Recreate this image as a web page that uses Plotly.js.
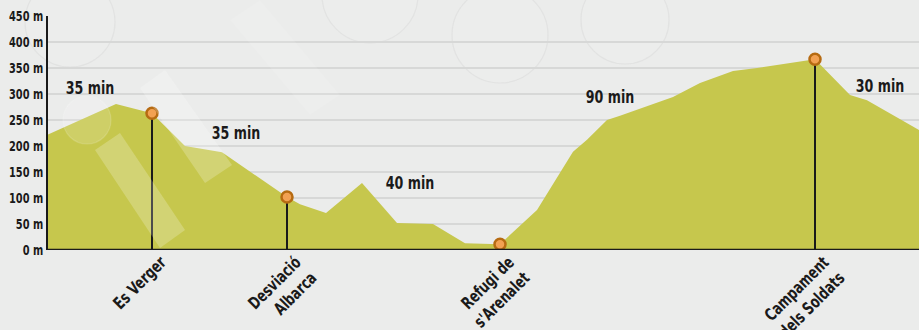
<!DOCTYPE html>
<html><head><meta charset="utf-8">
<script src="https://cdn.plot.ly/plotly-3.0.1.min.js"></script>
<style>html,body{margin:0;padding:0;background:#ebeceb;}#chart{width:919px;height:330px;}</style>
</head><body><div id="chart"></div>
<script>
// Elevation profile (distance units along the route, elevation in m)
const profileDist = [0, 68, 104, 137, 174, 239, 252, 278, 314, 349, 385, 417, 452, 489, 525, 539, 559, 572, 625, 652, 685, 709, 767, 802, 819, 871];
const profileElev = [222, 281, 263, 200, 188, 102, 88, 71, 129, 52, 50, 13, 11, 77, 189, 212, 250, 258, 294, 321, 344, 350, 367, 298, 288, 231];

const waypointNames = ["Es Verger", "Desviació<br>Albarca", "Refugi de<br>s'Arenalet", "Campament<br>dels Soldats"];
const waypointDist = [104, 239, 452, 767];
const waypointElev = [263, 102, 11, 367];

const segmentTimes = ["35 min", "35 min", "40 min", "90 min", "30 min"];
const segmentDist = [42, 188, 362, 562, 832];
const segmentElev = [312, 226, 129, 295, 317];

const yTicks = [0, 50, 100, 150, 200, 250, 300, 350, 400, 450];

const FONT = '"DejaVu Sans Condensed", "DejaVu Sans", sans-serif';

// vertical stems from data
const stemX = [], stemY = [];
waypointDist.forEach((d, i) => { stemX.push(d, d, null); stemY.push(0, waypointElev[i], null); });

const traces = [
  {x: profileDist, y: profileElev, type: 'scatter', mode: 'lines', fill: 'tozeroy',
   fillcolor: '#c6c74d', line: {width: 0, color: '#c6c74d'}, hoverinfo: 'skip'},
  {x: stemX, y: stemY, type: 'scatter', mode: 'lines', line: {color: '#1a1a1a', width: 2}, hoverinfo: 'skip'},
  {x: waypointDist, y: waypointElev, type: 'scatter', mode: 'markers',
   marker: {size: 11, color: '#f2a152', line: {color: '#b66b12', width: 2.5}}, hoverinfo: 'skip'}
];

// decorative watermark shapes (pixel-to-paper helper)
const px = v => (v - 48) / 871, py = v => (250 - v) / 234;
function circ(cx, cy, r, layer, fill, line) {
  return {type: 'circle', xref: 'paper', yref: 'paper', layer: layer,
    x0: px(cx - r), x1: px(cx + r), y0: py(cy + r), y1: py(cy - r),
    fillcolor: fill, line: {color: line, width: 1.2}};
}
function rrect(pts, fill) {
  return {type: 'path', xref: 'paper', yref: 'paper', layer: 'above',
    path: 'M' + pts.map(p => px(p[0]) + ',' + py(p[1])).join(' L') + ' Z',
    fillcolor: fill, line: {width: 0}};
}
const shapes = [
  circ(70, 22, 45, 'below', 'rgba(255,255,255,0.05)', 'rgba(205,205,205,0.3)'),
  circ(500, 35, 48, 'below', 'rgba(255,255,255,0.05)', 'rgba(205,205,205,0.3)'),
  circ(625, 20, 44, 'below', 'rgba(255,255,255,0.05)', 'rgba(205,205,205,0.3)'),
  circ(370, -5, 48, 'below', 'rgba(255,255,255,0.05)', 'rgba(205,205,205,0.3)'),
  circ(87, 120, 24, 'above', 'rgba(255,255,255,0.15)', 'rgba(255,255,255,0.15)'),
  rrect([[95, 150], [120, 133], [185, 230], [160, 248]], 'rgba(255,255,255,0.22)'),
  rrect([[140, 88], [165, 70], [232, 165], [205, 183]], 'rgba(255,255,255,0.22)'),
  rrect([[230, 20], [260, 0], [340, 95], [310, 115]], 'rgba(255,255,255,0.1)')
];

const layout = {
  width: 919, height: 330,
  margin: {l: 48, r: 0, t: 16, b: 80},
  paper_bgcolor: '#ebeceb', plot_bgcolor: '#ebeceb',
  showlegend: false,
  font: {family: FONT, color: '#1a1a1a'},
  xaxis: {range: [0, 871], showgrid: false, zeroline: false,
    tickmode: 'array', tickvals: waypointDist, ticktext: waypointNames,
    tickangle: -45, ticks: '', showline: false, ticklabelshift: 9, ticklabelstandoff: -2,
    tickfont: {family: FONT, size: 17, color: '#1a1a1a', weight: 'bold'}},
  yaxis: {range: [0, 450], tickmode: 'array', tickvals: yTicks,
    ticktext: yTicks.map(v => v + ' m'),
    showgrid: true, gridcolor: '#d7d8d7', gridwidth: 2, zeroline: false,
    showline: true, linecolor: '#1a1a1a', linewidth: 2, ticks: '',
    tickfont: {family: FONT, size: 14, color: '#1a1a1a', weight: 'bold'}},
  shapes: shapes.concat([{type: 'line', xref: 'paper', yref: 'y', x0: 0, x1: 1, y0: 0, y1: 0,
    line: {color: '#1a1a1a', width: 2.5}, layer: 'above'}]),
  annotations: segmentTimes.map((t, i) => ({x: segmentDist[i], y: segmentElev[i], text: t,
    showarrow: false, font: {family: FONT, size: 18, color: '#1a1a1a', weight: 'bold'}}))
};

// narrow the glyphs to imitate the condensed typeface of the original
function condense(root, factor) {
  root.querySelectorAll('text').forEach(t => {
    const lines = t.querySelectorAll('tspan.line');
    const targets = lines.length ? Array.from(lines) : [t];
    targets.forEach(el => {
      const len = el.getComputedTextLength();
      if (len > 0) {
        el.setAttribute('textLength', (len * factor).toFixed(2));
        el.setAttribute('lengthAdjust', 'spacingAndGlyphs');
      }
    });
  });
}

Plotly.newPlot('chart', traces, layout, {staticPlot: true, displayModeBar: false}).then(gd => {
  gd.querySelectorAll('.ytick, .annotation-text-g').forEach(g => condense(g, 0.78));
  gd.querySelectorAll('.xtick').forEach(g => condense(g, 0.8));
});
</script></body></html>
